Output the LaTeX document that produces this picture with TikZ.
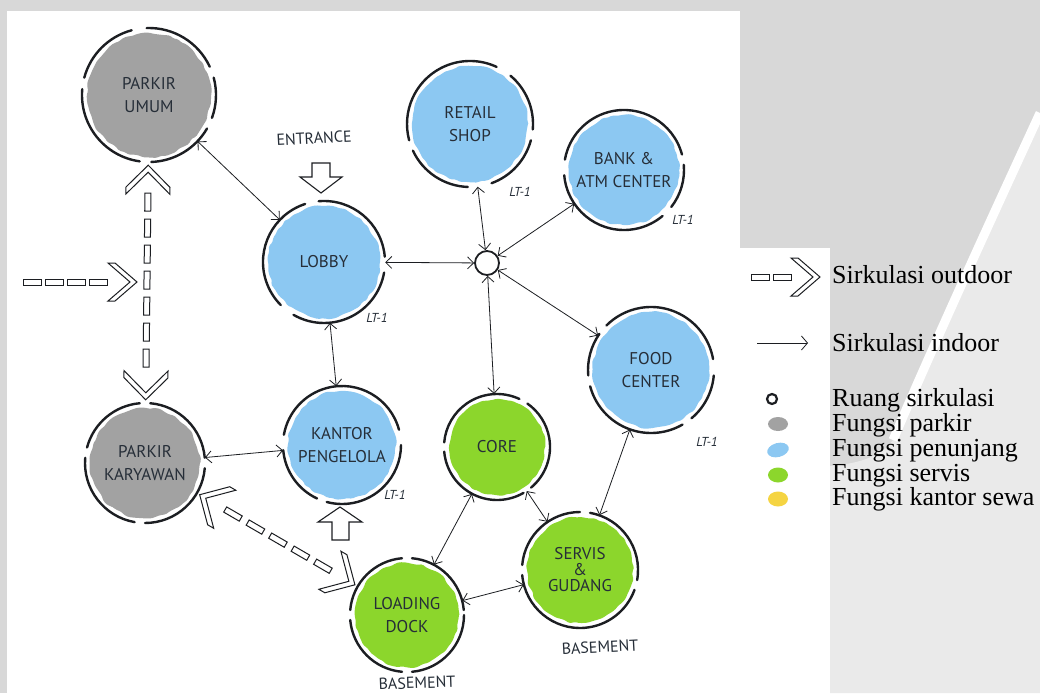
\documentclass[tikz,border=0pt]{standalone}
\usepackage{fontspec}
\setmainfont{Liberation Serif}
\newfontfamily\handfont{PT Sans}
\usetikzlibrary{arrows.meta,decorations.markings,decorations.pathmorphing}

\definecolor{sheetgray}{RGB}{216,216,216}
\definecolor{paleshade}{RGB}{234,234,234}
\definecolor{ink}{RGB}{28,30,34}
\definecolor{textink}{RGB}{38,46,56}
\definecolor{parkcol}{RGB}{162,162,162}
\definecolor{supportcol}{RGB}{140,200,242}
\definecolor{servicecol}{RGB}{140,214,44}
\definecolor{rentcol}{RGB}{245,212,66}

\tikzset{
  ring/.style={draw=ink, line width=2.4pt, line cap=round},
  wash/.style={fill=#1, decorate, decoration={random steps, segment length=5pt, amplitude=1.2pt}, rounded corners=1.5pt},
  room/.style={circle, inner sep=0pt, align=center, text=textink, font=\handfont\fontsize{17}{23}\selectfont},
  lvlnote/.style={text=textink, inner sep=0pt, font=\handfont\itshape\fontsize{13}{15}\selectfont},
  floornote/.style={text=textink, inner sep=0pt, font=\handfont\fontsize{16}{18}\selectfont},
  gatearrow/.style={draw=ink, line width=1.1pt, line join=miter, fill=white},
  indoor/.style={draw=ink, line width=0.8pt, {Straight Barb[length=6pt,width=12pt]}-{Straight Barb[length=6pt,width=12pt]}},
  indoorone/.style={draw=ink, line width=0.8pt, -{Straight Barb[length=6pt,width=14pt]}},
  chevbox/.style={draw=ink, line width=1pt, fill=white, line join=miter},
  dashbox/.style={draw=ink, line width=1pt, fill=white},
  outdoor/.style={postaction={decorate, decoration={markings,
      mark=at position 3pt with {\draw[chevbox] (0pt,0pt) -- (22pt,22pt) -- (29pt,22pt) -- (7pt,0pt) -- (29pt,-22pt) -- (22pt,-22pt) -- cycle;},
      mark=between positions 40pt and -40pt step 26pt with {\draw[dashbox] (-9pt,-3pt) rectangle (9pt,3pt);},
      mark=at position -3pt with {\draw[chevbox] (0pt,0pt) -- (-22pt,22pt) -- (-29pt,22pt) -- (-7pt,0pt) -- (-29pt,-22pt) -- (-22pt,-22pt) -- cycle;}}}},
  outdoorend/.style={postaction={decorate, decoration={markings,
      mark=between positions 10pt and -36pt step 22pt with {\draw[dashbox] (-9pt,-3pt) rectangle (9pt,3pt);},
      mark=at position -2pt with {\draw[chevbox] (0pt,0pt) -- (-22pt,19pt) -- (-29pt,19pt) -- (-7pt,0pt) -- (-29pt,-19pt) -- (-22pt,-19pt) -- cycle;}}}},
  legtext/.style={anchor=base west, inner sep=0pt, font=\fontsize{26}{26}\selectfont}
}

% a sketched room: name, x, y, radius, wash colour, label, ring arcs (deg)
\newcommand{\sketchroom}[7]{%
  \path[wash=#5] (#2,#3) circle[radius=#4-5];
  \node[room, minimum size=2*#4] (#1) at (#2,#3) {#6};
  \foreach \a/\b in {#7}
    \draw[ring] (#1.center) ++(-\a:#4) arc[start angle=-\a, end angle=-\b, radius=#4];
}

\begin{document}
\begin{tikzpicture}[x=1pt, y=-1pt]
\useasboundingbox (0,0) rectangle (1040,693);

% sheet and backdrop
\fill[sheetgray] (0,0) rectangle (1040,693);
\fill[paleshade] (1040,113) .. controls (1000,200) and (940,330) .. (893,440)
   .. controls (880,458) and (855,464) .. (830,466) -- (830,693) -- (1040,693) -- cycle;
\draw[white, line width=9pt] (1040,113) .. controls (1000,200) and (940,330) .. (893,440);
\fill[white] (7,11) rectangle (740,693);
\fill[white] (740,248) rectangle (830,693);

% rooms
\sketchroom{pumum}{149}{95}{67}{parkcol}{PARKIR\\UMUM}{105/165,175/262,272/330,340/375,25/92}
\sketchroom{lobby}{324}{262}{61}{supportcol}{LOBBY}{5/95,108/225,240/350}
\sketchroom{retail}{470}{124}{63}{supportcol}{RETAIL\\SHOP}{65/195,205/268,290/345,355/410}
\sketchroom{bank}{624}{170}{60}{supportcol}{BANK \&\\ATM CENTER}{15/170,185/310,322/365}
\sketchroom{food}{651}{370}{63}{supportcol}{FOOD\\CENTER}{10/135,145/185,195/300,310/355}
\sketchroom{core}{497}{447}{53}{servicecol}{CORE}{65/175,185/300,310/415}
\sketchroom{kantor}{342}{445}{59}{supportcol}{KANTOR\\PENGELOLA}{15/170,185/245,255/360}
\sketchroom{pkar}{145}{463}{60}{parkcol}{PARKIR\\KARYAWAN}{5/85,95/165,175/260,270/355}
\sketchroom{servis}{580}{570}{58}{servicecol}{SERVIS\\[-7pt]\&\\[-7pt]GUDANG}{90/175,185/340,350/440}
\sketchroom{loading}{407}{615}{57}{servicecol}{LOADING\\DOCK}{95/175,185/265,275/360,5/85}

% circulation hub
\node[circle, draw=ink, line width=1.8pt, fill=white, minimum size=24pt, inner sep=0pt] (hub) at (487,263) {};

% level tags
\node[lvlnote] (tlobby) at (377,318) {LT-1};
\node[lvlnote] (tretail) at (520,192) {LT-1};
\node[lvlnote] (tbank) at (683,220) {LT-1};
\node[lvlnote] (tkantor) at (395,495) {LT-1};
\node[lvlnote] (tfood) at (707,442) {LT-1};
\node[floornote, rotate=3] (bservis) at (600,647) {BASEMENT};
\node[floornote, rotate=2] (bloading) at (417,683) {BASEMENT};
\node[floornote, rotate=3] (entrance) at (314,138) {ENTRANCE};

% entrances
\draw[gatearrow] (312,163) -- (330,163) -- (330,177) -- (342,177) -- (321,193) -- (300,177) -- (312,177) -- cycle;
\draw[gatearrow] (332,540) -- (349,540) -- (349,522) -- (362,522) -- (340,507) -- (318,522) -- (332,522) -- cycle;

% indoor circulation
\draw[indoor] (pumum) -- (lobby);
\draw[indoor] (lobby) -- (hub);
\draw[indoor] (hub) -- (retail);
\draw[indoor] (hub) -- (bank);
\draw[indoor] (hub) -- (food);
\draw[indoor] (hub) -- (core);
\draw[indoor] (lobby) -- (kantor);
\draw[indoor] (pkar) -- (kantor);
\draw[indoor] (core) -- (loading);
\draw[indoor] (core) -- (servis);
\draw[indoor] (food) -- (servis);
\draw[indoor] (loading) -- (servis);

% outdoor circulation
\coordinate (westgate) at (22,282);
\coordinate (junction) at (139,282);
\path[outdoor] (pumum) -- (pkar);
\path[outdoorend] (westgate) -- (junction);
\path[outdoor] (loading) -- (pkar);

% legend
\coordinate (lgoa) at (750,277);
\coordinate (lgob) at (822,277);
\path[outdoorend] (lgoa) -- (lgob);
\coordinate (lgia) at (757,343);
\coordinate (lgib) at (808,343);
\draw[indoorone] (lgia) -- (lgib);
\node[circle, draw=ink, line width=2.2pt, minimum size=10pt, inner sep=0pt] (lgring) at (772,399) {};
\fill[parkcol] (778,424) ellipse[x radius=10, y radius=7];
\fill[supportcol, rotate around={15:(778,450)}] (778,450) ellipse[x radius=11, y radius=7];
\fill[servicecol] (778,475) ellipse[x radius=10, y radius=7.5];
\fill[rentcol] (778,499) ellipse[x radius=10, y radius=7.5];

\node[legtext] (k1) at (832,283) {Sirkulasi outdoor};
\node[legtext] (k2) at (832,351) {Sirkulasi indoor};
\node[legtext] (k3) at (832,406) {Ruang sirkulasi};
\node[legtext] (k4) at (832,431) {Fungsi parkir};
\node[legtext] (k5) at (832,456) {Fungsi penunjang};
\node[legtext] (k6) at (832,481) {Fungsi servis};
\node[legtext] (k7) at (832,505) {Fungsi kantor sewa};
\end{tikzpicture}
\end{document}
